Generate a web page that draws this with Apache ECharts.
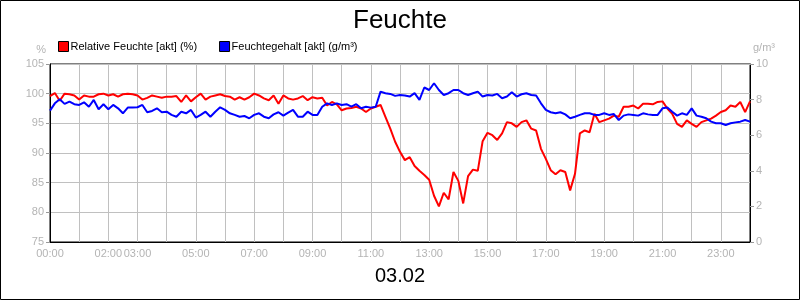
<!DOCTYPE html>
<html>
<head>
<meta charset="utf-8">
<script src="https://cdn.jsdelivr.net/npm/echarts@6/dist/echarts.min.js"></script>
<style>
  html, body { margin: 0; padding: 0; background: #fff; }
  #chart { width: 800px; height: 300px; }
</style>
</head>
<body>
<div id="chart"></div>
<script>
// Messwerte alle 10 Minuten, 00:00 bis 24:00
var stepHours = 1 / 6;

// Relative Feuchte [akt] (%)
var relFeuchte = [
  99.6, 100.1, 98.8, 100.0, 99.9, 99.7,
  99.0, 99.7, 99.5, 99.5, 99.9, 100.0,
  99.7, 99.9, 99.5, 99.9, 100.0, 99.9,
  99.7, 99.0, 99.3, 99.7, 99.5, 99.3,
  99.5, 99.5, 99.6, 98.6, 99.7, 98.7,
  99.4, 100.0, 99.0, 99.5, 99.7, 99.9,
  99.6, 99.5, 99.0, 99.4, 99.0, 99.4,
  100.0, 99.7, 99.2, 98.9, 99.7, 98.3,
  99.7, 99.2, 99.0, 99.2, 99.6, 98.9,
  99.4, 99.2, 99.3, 98.0, 98.6, 98.2,
  97.2, 97.5, 97.6, 97.8, 97.5, 96.9,
  97.5, 97.8, 98.1, 96.1, 94.1, 91.9,
  90.2, 88.8, 89.3, 87.8, 87.0, 86.3,
  85.5, 82.8, 81.0, 83.3, 82.2, 86.8,
  85.3, 81.5, 86.1, 87.2, 87.0, 92.0,
  93.4, 93.0, 92.2, 93.3, 95.2, 95.0,
  94.4, 95.2, 95.5, 94.1, 93.8, 90.7,
  89.0, 87.1, 86.4, 87.1, 86.8, 83.7,
  86.5, 93.3, 93.8, 93.5, 96.6, 95.2,
  95.5, 95.8, 96.3, 96.1, 97.8, 97.8,
  98.0, 97.5, 98.3, 98.3, 98.2, 98.6,
  98.7, 97.5, 96.6, 94.9, 94.4, 95.5,
  94.9, 94.4, 95.2, 95.5, 95.8, 96.3,
  96.9, 97.2, 98.0, 97.8, 98.6, 96.9,
  98.7
];

// Feuchtegehalt [akt] (g/m³)
var feuchtegehalt = [
  7.38, 7.79, 8.02, 7.76, 7.89, 7.74,
  7.70, 7.85, 7.60, 7.98, 7.46, 7.74,
  7.46, 7.70, 7.51, 7.23, 7.55, 7.55,
  7.57, 7.70, 7.29, 7.36, 7.51, 7.29,
  7.32, 7.14, 7.04, 7.32, 7.23, 7.42,
  6.99, 7.14, 7.32, 7.04, 7.32, 7.57,
  7.42, 7.23, 7.14, 7.04, 7.08, 6.95,
  7.14, 7.23, 7.04, 6.95, 7.17, 7.29,
  7.10, 7.27, 7.42, 7.04, 7.04, 7.32,
  7.14, 7.14, 7.60, 7.79, 7.70, 7.79,
  7.70, 7.74, 7.60, 7.74, 7.51, 7.60,
  7.55, 7.60, 8.45, 8.36, 8.32, 8.21,
  8.26, 8.23, 8.17, 8.36, 7.98, 8.68,
  8.54, 8.92, 8.54, 8.26, 8.36, 8.54,
  8.54, 8.36, 8.26, 8.36, 8.45, 8.17,
  8.26, 8.23, 8.32, 8.08, 8.17, 8.41,
  8.17, 8.30, 8.36, 8.26, 8.23, 7.79,
  7.42, 7.29, 7.23, 7.29, 7.17, 6.95,
  7.04, 7.14, 7.23, 7.23, 7.14, 7.14,
  7.23, 7.14, 7.19, 6.85, 7.10, 7.17,
  7.14, 7.10, 7.23, 7.17, 7.14, 7.14,
  7.51, 7.55, 7.32, 7.10, 7.23, 7.14,
  7.51, 7.10, 7.04, 6.95, 6.76, 6.67,
  6.67, 6.57, 6.67, 6.72, 6.76, 6.85,
  6.76
];

// Beschriftung der x-Achse, ein Eintrag je Stunde
var hourLabels = [
  '00:00', '', '02:00', '03:00', '', '05:00', '', '07:00', '', '09:00', '', '11:00',
  '', '13:00', '', '15:00', '', '17:00', '', '19:00', '', '21:00', '', '23:00', ''
];

function toPairs(values) {
  return values.map(function (v, i) { return [i * stepHours, v]; });
}

var fontFamily = '"Liberation Sans", Arial, sans-serif';
var labelGrey = '#b4b4b4';

var chart = echarts.init(document.getElementById('chart'));

var option = {
  animation: false,
  textStyle: { fontFamily: fontFamily },
  title: [
    {
      text: 'Feuchte',
      left: 'center',
      top: 3,
      textStyle: { fontSize: 26, fontWeight: 'normal', color: '#000', fontFamily: fontFamily }
    },
    {
      text: '03.02',
      left: 'center',
      top: 261,
      textStyle: { fontSize: 20, fontWeight: 'normal', color: '#000', fontFamily: fontFamily }
    }
  ],
  legend: {
    left: 58,
    top: 41,
    padding: 0,
    icon: 'rect',
    itemWidth: 10,
    itemHeight: 10,
    itemGap: 22,
    textStyle: { fontSize: 11, color: '#000', fontFamily: fontFamily, padding: [0, 0, 0, -3] },
    data: [
      { name: 'Relative Feuchte [akt] (%)', itemStyle: { color: '#ff0000', borderColor: '#000', borderWidth: 1 } },
      { name: 'Feuchtegehalt [akt] (g/m³)', itemStyle: { color: '#0000ff', borderColor: '#000', borderWidth: 1 } }
    ]
  },
  grid: {
    left: 50,
    right: 50,
    top: 64,
    bottom: 58,
    show: true,
    borderColor: '#000',
    borderWidth: 1,
    backgroundColor: '#fff'
  },
  xAxis: {
    type: 'value',
    min: 0,
    max: 24,
    interval: 1,
    axisLine: { lineStyle: { color: '#000' } },
    axisTick: { show: false },
    axisLabel: {
      color: labelGrey,
      fontSize: 11,
      margin: 6,
      formatter: function (v) { return hourLabels[Math.round(v)] || ''; }
    },
    splitLine: { show: true, lineStyle: { color: '#c0c0c0', width: 1 } }
  },
  yAxis: [
    {
      type: 'value',
      min: 75,
      max: 105,
      interval: 5,
      name: '%',
      nameGap: 9,
      nameTextStyle: { color: labelGrey, fontSize: 11, align: 'right', padding: [0, 4, 0, 0] },
      axisLine: { show: true, lineStyle: { color: '#000' } },
      axisTick: { show: true, length: 4, lineStyle: { color: '#999' } },
      axisLabel: { color: labelGrey, fontSize: 11, margin: 6 },
      splitLine: { show: true, lineStyle: { color: '#c0c0c0', width: 1 } }
    },
    {
      type: 'value',
      min: 0,
      max: 10,
      interval: 2,
      name: 'g/m³',
      nameGap: 11,
      nameTextStyle: { color: labelGrey, fontSize: 11, align: 'left', padding: [0, 0, 0, 3] },
      axisLine: { show: true, lineStyle: { color: '#000' } },
      axisTick: { show: true, length: 4, lineStyle: { color: '#999' } },
      axisLabel: { color: labelGrey, fontSize: 11, margin: 6 },
      splitLine: { show: false }
    }
  ],
  series: [
    {
      name: 'Relative Feuchte [akt] (%)',
      type: 'line',
      yAxisIndex: 0,
      showSymbol: false,
      color: '#ff0000',
      lineStyle: { color: '#ff0000', width: 2 },
      data: toPairs(relFeuchte)
    },
    {
      name: 'Feuchtegehalt [akt] (g/m³)',
      type: 'line',
      yAxisIndex: 1,
      showSymbol: false,
      color: '#0000ff',
      lineStyle: { color: '#0000ff', width: 2 },
      data: toPairs(feuchtegehalt)
    }
  ],
  graphic: [
    {
      type: 'rect',
      silent: true,
      shape: { x: 0.5, y: 0.5, width: 799, height: 299 },
      style: { fill: 'none', stroke: '#000', lineWidth: 1 }
    }
  ]
};

chart.setOption(option);
</script>
</body>
</html>
